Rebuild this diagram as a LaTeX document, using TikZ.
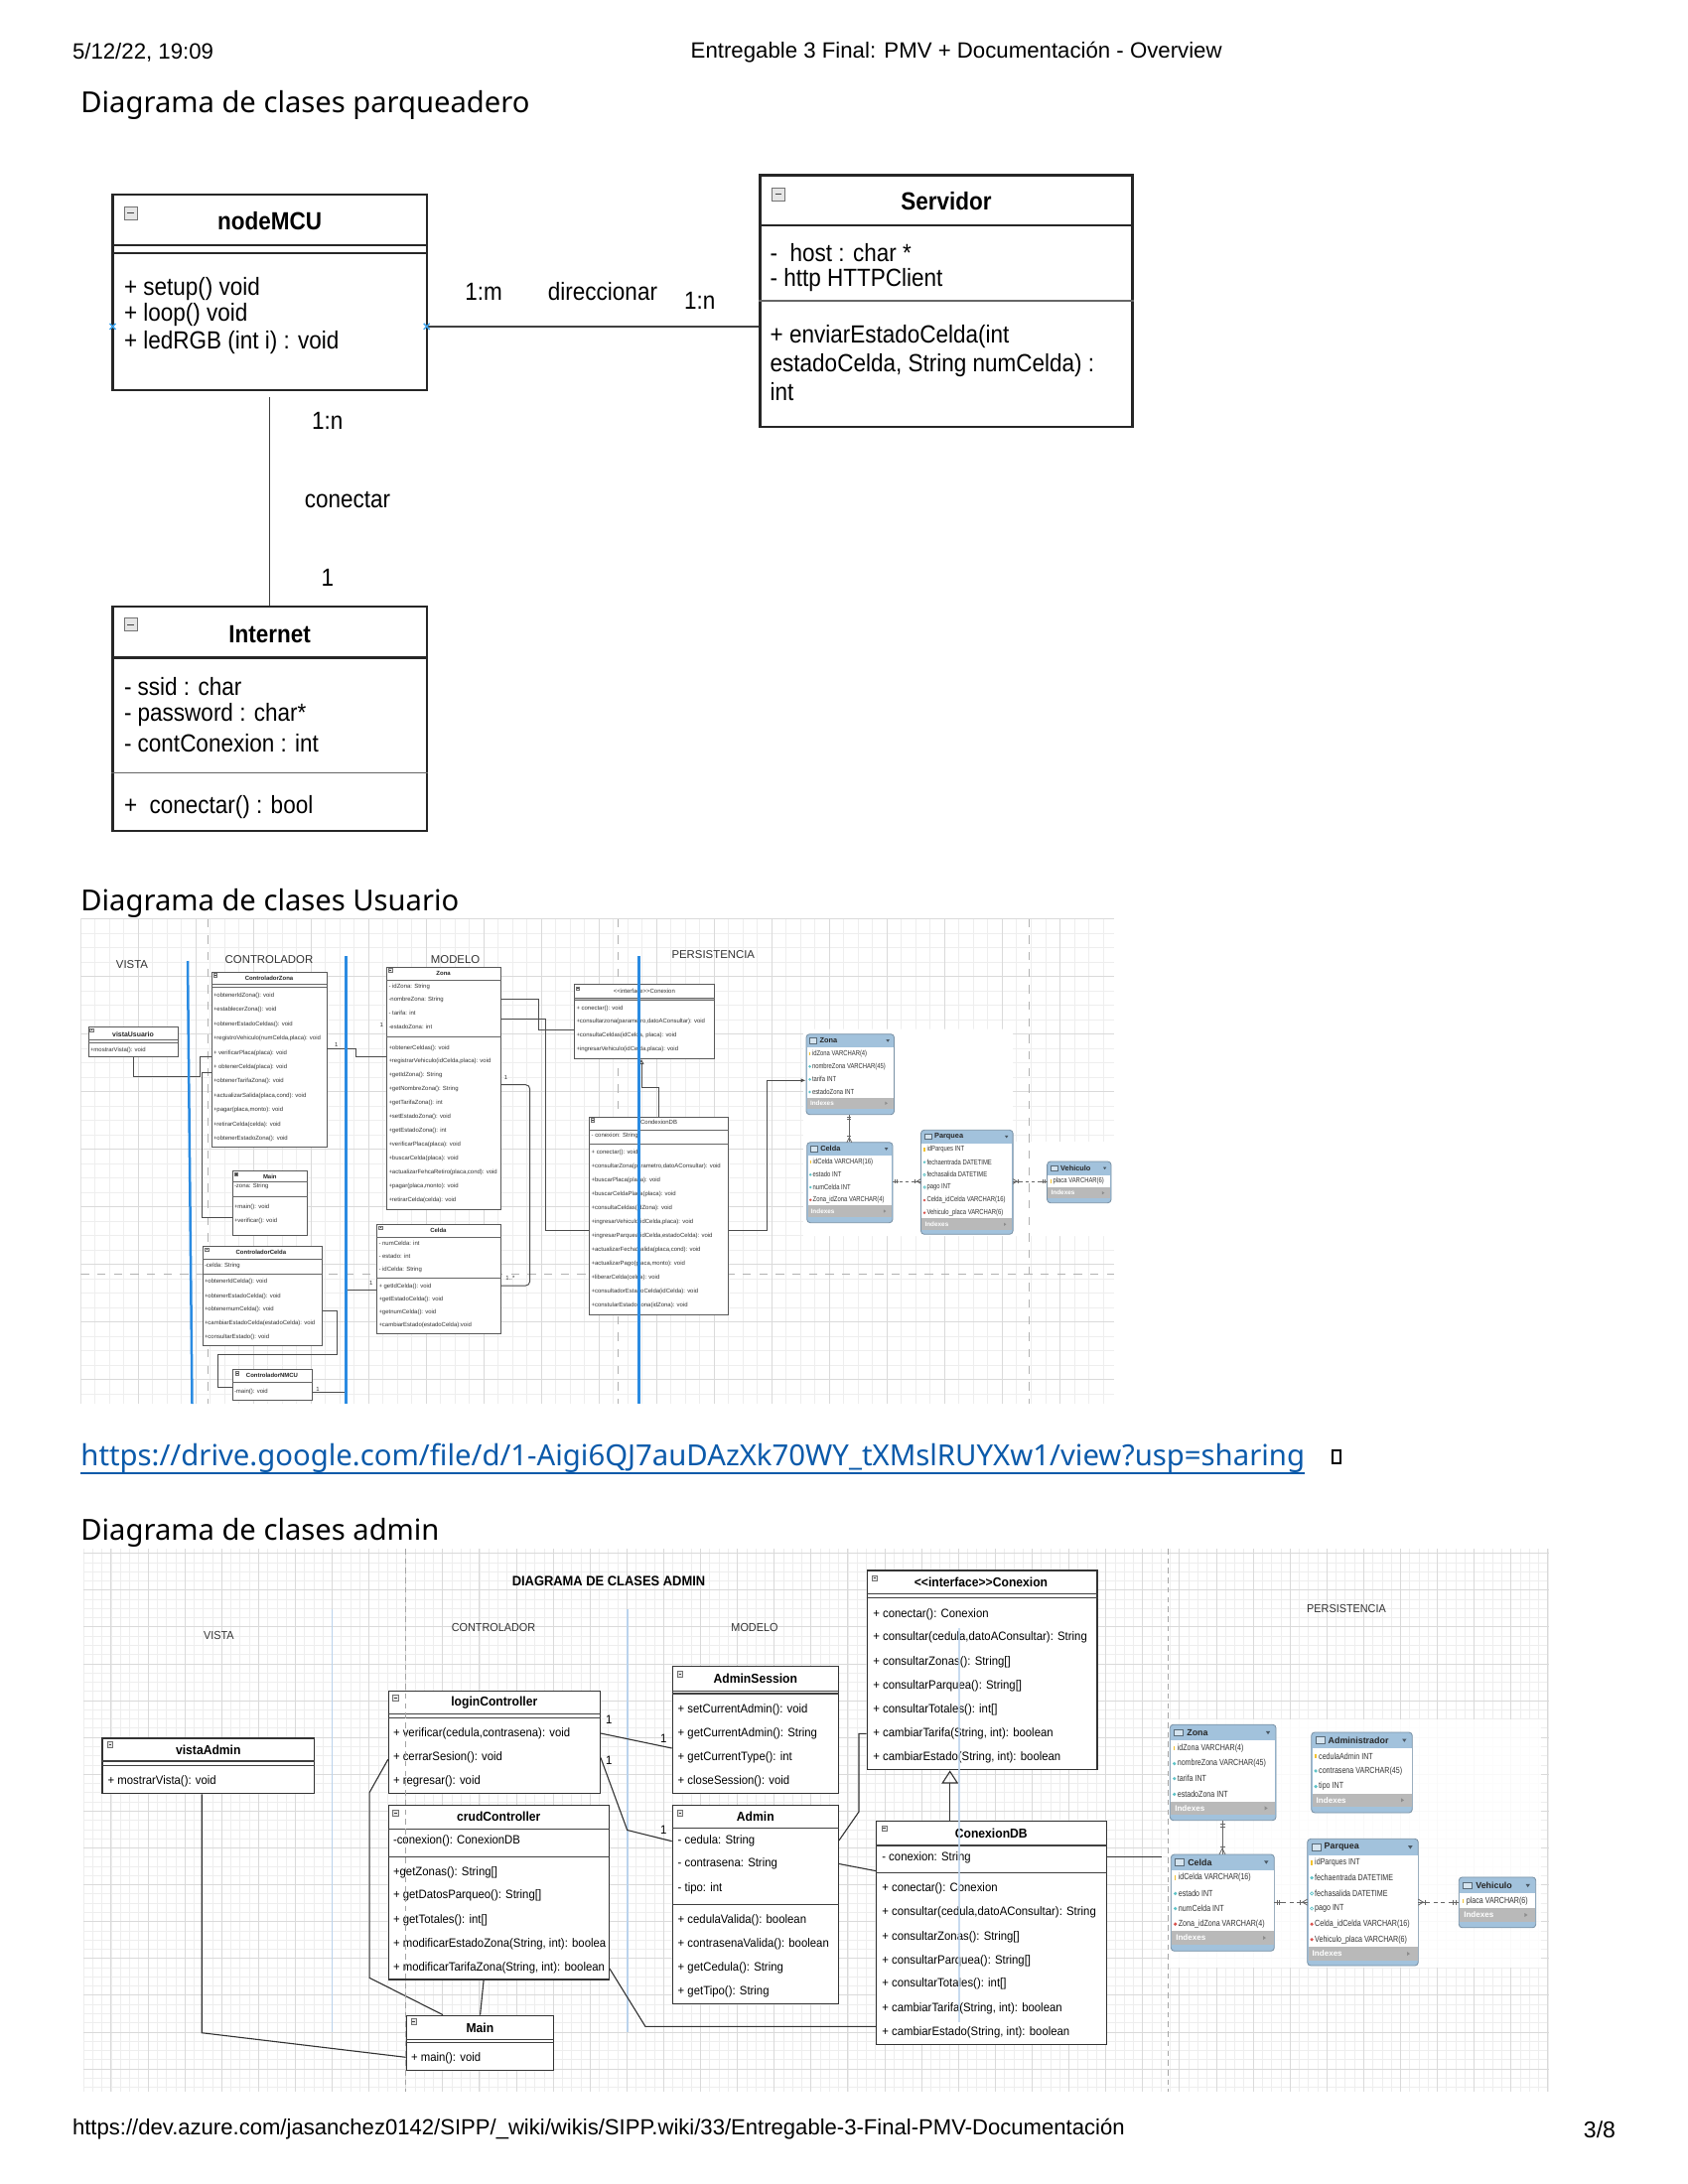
\documentclass[tikz,border=0pt]{standalone}
\usepackage{fontspec}
\setmainfont{Liberation Sans}
\newfontfamily\segoe{Noto Sans}
\newfontfamily\umlA[FakeStretch=0.9]{Liberation Sans}
\newfontfamily\umlB[FakeStretch=0.93]{Liberation Sans}
\newfontfamily\erf[FakeStretch=0.8]{Liberation Sans}
\usetikzlibrary{fit,arrows.meta}

\definecolor{linkblue}{HTML}{0B5AAA}
\definecolor{laneblue}{HTML}{2A8BE2}
\definecolor{lanelight}{HTML}{BBD3EC}
\definecolor{erhead}{HTML}{A2C2DC}
\definecolor{ergrey}{HTML}{B9B9B9}
\definecolor{gridminor}{HTML}{EEEEEE}
\definecolor{gridmajor}{HTML}{DADADA}
\definecolor{xblue}{HTML}{3DA5F0}
\definecolor{keyyel}{HTML}{F2C230}
\definecolor{colcyan}{HTML}{5FC3C8}
\definecolor{fkred}{HTML}{D9534F}

\newcounter{tn}
\newcommand\putT[3][]{\stepcounter{tn}\node[txt,#1] (t\arabic{tn}) at (#2) {#3};}
\newcommand\cls[6][]{\path (#3,#4) coordinate (#2-nw) (#5,#6) coordinate (#2-se);
  \node[#1, fit=(#2-nw)(#2-se)] (#2) {};}
\newcommand\hsep[3][]{\draw[#1] (#2.west |- 0,#3) -- (#2.east |- 0,#3);}
\newcommand\icon[3]{\draw[iconst] (#1,#2) +(-#3/2,-#3/2) rectangle +(#3/2,#3/2);
  \draw[iconmin] (#1,#2) +(-#3/4,0) -- +(#3/4,0);}
% ER helpers
\newcommand\ertab[8]{\path (#2,#3) coordinate (#1-nw) (#4,#5) coordinate (#1-se);
  \node[erbox, fit=(#1-nw)(#1-se)] (#1) {};
  \fill[white] (#2+0.8,#6) rectangle (#4-0.8,#7);
  \fill[ergrey] (#2+0.8,#7) rectangle (#4-0.8,#8);}
\newcommand\eric[4]{\ifcase#4\relax
  \fill[keyyel] (#1,#2) +(-0.7*#3,-2.2*#3) rectangle +(0.7*#3,2.2*#3);
  \or \fill[colcyan] (#1,#2) +(-1.8*#3,0) -- +(0,-1.8*#3) -- +(1.8*#3,0) -- +(0,1.8*#3) -- cycle;
  \or \draw[colcyan,line width=0.25pt] (#1,#2) +(-1.6*#3,0) -- +(0,-1.6*#3) -- +(1.6*#3,0) -- +(0,1.6*#3) -- cycle;
  \or \fill[fkred] (#1,#2) +(-1.8*#3,0) -- +(0,-1.8*#3) -- +(1.8*#3,0) -- +(0,1.8*#3) -- cycle;
  \fi}
\newcommand\errow[5]{\eric{#1+4.4*#3}{#2}{#3}{#4}\putT[erfont,anchor=west]{#1+7.5*#3,#2}{#5}}
\newcommand\erhead[5]{\draw[draw=erhead!55!black, fill=white!55!erhead, line width=0.25pt] (#1+4.4*#4,#3-3.3*#4) rectangle (#1+13.4*#4,#3+3.3*#4);
  \putT[ertitle,anchor=west]{#1+17*#4,#3}{#5}
  \fill[erhead!45!black] (#2-8*#4,#3) +(-2.2*#4,-1.5*#4) -- +(2.2*#4,-1.5*#4) -- +(0,1.8*#4) -- cycle;}
\newcommand\erind[4]{\putT[erind,anchor=west]{#1+5*#4,#3}{Indexes}
  \fill[black!45] (#2-10*#4,#3) +(-1.3*#4,-2*#4) -- +(1.7*#4,0) -- +(-1.3*#4,2*#4) -- cycle;}
\newcommand\mkV[4]{% x ytop ybot s
  \draw[erl] (#1-2.5*#4,#2+4*#4) -- (#1+2.5*#4,#2+4*#4);
  \draw[erl] (#1-2.5*#4,#2+6.5*#4) -- (#1+2.5*#4,#2+6.5*#4);
  \draw[erl] (#1-3*#4,#3) -- (#1,#3-6*#4) -- (#1+3*#4,#3);
  \draw[erl] (#1-2.5*#4,#3-8*#4) -- (#1+2.5*#4,#3-8*#4);}
\newcommand\mkCP[4]{% x1 x2 y s
  \draw[erl] (#1,#3) -- (#1+8*#4,#3) (#2-9*#4,#3) -- (#2,#3);
  \draw[erl] (#1+3*#4,#3-2.5*#4) -- (#1+3*#4,#3+2.5*#4);
  \draw[erl] (#1+5.5*#4,#3-2.5*#4) -- (#1+5.5*#4,#3+2.5*#4);
  \draw[erl] (#2-7.5*#4,#3-2.5*#4) -- (#2-7.5*#4,#3+2.5*#4);
  \draw[erl] (#2,#3-3*#4) -- (#2-5*#4,#3) -- (#2,#3+3*#4);}
\newcommand\mkPV[4]{% x1 x2 y s
  \draw[erl] (#1,#3) -- (#1+8*#4,#3) (#2-8*#4,#3) -- (#2,#3);
  \draw[erl] (#1,#3-3*#4) -- (#1+5*#4,#3) -- (#1,#3+3*#4);
  \draw[erl] (#1+7*#4,#3-2.5*#4) -- (#1+7*#4,#3+2.5*#4);
  \draw[erl] (#2-5.5*#4,#3-2.5*#4) -- (#2-5.5*#4,#3+2.5*#4);
  \draw[erl] (#2-3*#4,#3-2.5*#4) -- (#2-3*#4,#3+2.5*#4);}

\begin{document}
\begin{tikzpicture}[x=0.36pt,y=-0.36pt,
  txt/.style={inner sep=0pt, outer sep=0pt},
  topbox/.style={draw=black!85, line width=0.75pt, fill=white, inner sep=0pt},
  topsep/.style={draw=black!85, line width=0.75pt},
  topsepthin/.style={draw=black!60, line width=0.5pt},
  toptxt/.style={font=\umlA\fontsize{9}{10}\selectfont},
  toptitle/.style={font=\umlA\bfseries\fontsize{9}{10}\selectfont},
  topconn/.style={draw=black!75, line width=0.6pt},
  iconst/.style={draw=black!55, fill=black!10, line width=0.3pt},
  iconmin/.style={draw=black!75, line width=0.45pt},
  ubox/.style={draw=black!65, line width=0.3pt, fill=white, inner sep=0pt},
  usep/.style={draw=black!60, line width=0.3pt},
  utxt/.style={font=\fontsize{2.15}{2.5}\selectfont, text=black!80},
  utitle/.style={font=\bfseries\fontsize{2.15}{2.5}\selectfont, text=black!85},
  uconn/.style={draw=black!70, line width=0.35pt},
  ulbl/.style={font=\fontsize{4.1}{5}\selectfont, text=black!80},
  abox/.style={draw=black!80, line width=0.45pt, fill=white, inner sep=0pt},
  asep/.style={draw=black!75, line width=0.4pt},
  atxt/.style={font=\umlB\fontsize{4.4}{5}\selectfont},
  atitle/.style={font=\umlB\bfseries\fontsize{4.7}{5.5}\selectfont},
  aconn/.style={draw=black!80, line width=0.4pt},
  albl/.style={font=\umlB\fontsize{4.2}{5}\selectfont, text=black!80},
  erbox/.style={draw=erhead!75!black, fill=erhead, rounded corners=1.2pt, line width=0.3pt, inner sep=0pt},
  erl/.style={draw=black!60, line width=0.3pt},
  hdr/.style={font=\fontsize{8}{9}\selectfont},
  head/.style={font=\segoe\fontsize{10.5}{12}\selectfont}
]
\useasboundingbox (0,0) rectangle (1700,2200);
\fill[white] (0,0) rectangle (1700,2200);

% ---------------- page header / titles ----------------
\putT[hdr,anchor=west]{73,53}{5/12/22, 19:09}
\putT[hdr,anchor=west]{695.7,53}{Entregable 3 Final: PMV + Documentación - Overview}
\putT[head,anchor=west]{81.4,106}{Diagrama de clases parqueadero}
\putT[head,anchor=west]{81.4,910}{Diagrama de clases Usuario}
\putT[head,anchor=west,text=linkblue,font=\segoe\fontsize{10.55}{12}\selectfont]{81.4,1469}{https://drive.google.com/file/d/1-Aigi6QJ7auDAzXk70WY\_tXMslRUYXw1/view?usp=sharing}
\draw[linkblue, line width=0.6pt] (t\arabic{tn}.south west) -- (t\arabic{tn}.south east);
\draw[black, line width=0.5pt] (1342,1461) rectangle (1350,1474);
\putT[head,anchor=west]{81.4,1544}{Diagrama de clases admin}
\putT[hdr,anchor=west,font=\fontsize{7.95}{9}\selectfont]{73,2145}{https://dev.azure.com/jasanchez0142/SIPP/\_wiki/wikis/SIPP.wiki/33/Entregable-3-Final-PMV-Documentación}
\putT[hdr,anchor=east,font=\fontsize{8.3}{9}\selectfont]{1627,2145}{3/8}

% ---------------- top UML diagram ----------------
\cls[topbox]{mcu}{113.5}{195.7}{429.7}{393}
\hsep[topsep]{mcu}{247}
\hsep[topsep]{mcu}{254.7}
\icon{131.7}{214.8}{13}
\putT[toptitle]{271.6,222.5}{nodeMCU}
\putT[toptxt,anchor=west]{125,291}{+ setup() void}
\putT[toptxt,anchor=west]{125,317}{+ loop() void}
\putT[toptxt,anchor=west]{125,345}{+ ledRGB (int i) : void}

\cls[topbox]{serv}{765.5}{176.5}{1140.5}{430}
\hsep[topsep]{serv}{227}
\hsep[topsepthin]{serv}{303}
\icon{783.8}{195.7}{13}
\putT[toptitle]{953,203}{Servidor}
\putT[toptxt,anchor=west]{775.7,254.7}{-\ \ host : char *}
\putT[toptxt,anchor=west]{775.7,282}{- http HTTPClient}
\putT[toptxt,anchor=west]{775.7,338.6}{+ enviarEstadoCelda(int}
\putT[toptxt,anchor=west]{775.7,367.7}{estadoCelda, String numCelda) :}
\putT[toptxt,anchor=west]{775.7,394.5}{int}

\cls[topbox]{inet}{113.5}{611}{429.7}{836.6}
\hsep[topsep]{inet}{662.5}
\hsep[topsepthin]{inet}{778.6}
\icon{131.7}{629.3}{13}
\putT[toptitle]{271.6,639}{Internet}
\putT[toptxt,anchor=west]{125,691.5}{- ssid : char}
\putT[toptxt,anchor=west]{125,719.6}{- password : char*}
\putT[toptxt,anchor=west]{125,748.7}{- contConexion : int}
\putT[toptxt,anchor=west]{125,813.4}{+\ \ conectar() : bool}

\draw[topconn] (mcu.east |- 0,328.8) -- (serv.west |- 0,328.8);
\draw[topconn] ([yshift=-2.2pt]mcu.south) -- (inet.north);
\draw[xblue, line width=0.5pt] (113.5,328.8) +(-3,-3) -- +(3,3) +(-3,3) -- +(3,-3);
\draw[xblue, line width=0.5pt] (429.7,328.8) +(-3,-3) -- +(3,3) +(-3,3) -- +(3,-3);
\putT[toptxt]{487,294}{1:m}
\putT[toptxt]{607,294}{direccionar}
\putT[toptxt]{704.7,303}{1:n}
\putT[toptxt]{329.7,424}{1:n}
\putT[toptxt]{350,504}{conectar}
\putT[toptxt]{330,582}{1}

% ---------------- Usuario diagram ----------------
\begin{scope}
\clip (81.4,925.7) rectangle (1122,1414);
\foreach \i in {0,...,72} {\draw[gridminor, line width=0.3pt] (81.4+\i*14.5,925.7) -- (81.4+\i*14.5,1414);}
\foreach \j in {0,...,34} {\draw[gridminor, line width=0.3pt] (81.4,925.7+\j*14.5) -- (1122,925.7+\j*14.5);}
\foreach \i in {0,...,18} {\draw[gridmajor, line width=0.3pt] (81.4+\i*58,925.7) -- (81.4+\i*58,1414);}
\foreach \j in {0,...,8} {\draw[gridmajor, line width=0.3pt] (81.4,925.7+\j*58) -- (1122,925.7+\j*58);}
\fill[white] (809,1036.7) -- (1020,1036.7) -- (1020,1150) -- (1122,1150) -- (1122,1245) -- (809,1245) -- cycle;
\draw[black!30, dashed, line width=0.3pt] (81.4,1283.3) -- (1122,1283.3);
\draw[black!30, dashed, line width=0.3pt] (209.3,925.7) -- (209.3,1414);
\draw[black!30, dashed, line width=0.3pt] (622,925.7) -- (622,1414);
\draw[black!30, dashed, line width=0.3pt] (1036.8,925.7) -- (1036.8,1414);
\end{scope}

\putT[ulbl]{133,972}{VISTA}
\putT[ulbl]{271,967}{CONTROLADOR}
\putT[ulbl]{458.6,967}{MODELO}
\putT[ulbl]{718.3,962}{PERSISTENCIA}

% vistaUsuario
\cls[ubox]{vistaU}{89}{1034.3}{179}{1064.3}
\hsep[usep]{vistaU}{1047.7}\hsep[usep]{vistaU}{1050.7}
\icon{92.5}{1037.8}{3.5}
\putT[utitle,font=\bfseries\fontsize{2.5}{3}\selectfont]{134,1041.7}{vistaUsuario}
\putT[utxt,anchor=west]{91,1057.7}{+mostrarVista(): void}

% ControladorZona
\cls[ubox]{czona}{213}{979.3}{329}{1155}
\hsep[usep]{czona}{991.7}\hsep[usep]{czona}{994}
\icon{216.8}{982.5}{3.5}
\putT[utitle]{271,985.7}{ControladorZona}
\foreach \yy/\tt in {1002.7/{+obtenerIdZona(): void},1017.3/{+establecerZona(): void},1031.7/{+obtenerEstadoCeldas(): void},1046/{+registroVehiculo(numCelda,placa): void},1060.7/{+ verificarPlaca(placa): void},1074.7/{+ obtenerCelda(placa): void},1089.3/{+obtenerTarifaZona(): void},1104/{+actualizarSalida(placa,cond): void},1118.3/{+pagar(placa,monto): void},1132.7/{+retirarCelda(celda): void},1146.7/{+obtenerEstadoZona(): void}}
  {\putT[utxt,anchor=west]{215,\yy}{\tt}}

% Main (usuario)
\cls[ubox]{umain}{234.3}{1179.3}{309.3}{1244}
\hsep[usep]{umain}{1190}\hsep[usep]{umain}{1205}
\icon{238}{1183}{3.2}
\putT[utitle]{271.8,1185.2}{Main}
\putT[utxt,anchor=west]{236,1195}{-zona: String}
\putT[utxt,anchor=west]{236,1216}{+main(): void}
\putT[utxt,anchor=west]{236,1230}{+verificar(): void}

% ControladorCelda
\cls[ubox]{cceld}{204.3}{1255}{324.6}{1355}
\hsep[usep]{cceld}{1268.3}\hsep[usep]{cceld}{1283.3}
\icon{208.6}{1258.7}{3.5}
\putT[utitle]{262.9,1261}{ControladorCelda}
\putT[utxt,anchor=west]{206,1274.7}{-celda: String}
\foreach \yy/\tt in {1291.3/{+obtenerIdCelda(): void},1305.7/{+obtenerEstadoCelda(): void},1319.3/{+obtenernumCelda(): void},1333.3/{+cambiarEstadoCelda(estadoCelda): void},1347.3/{+consultarEstado(): void}}
  {\putT[utxt,anchor=west]{206,\yy}{\tt}}

% ControladorNMCU
\cls[ubox]{cnmcu}{234.3}{1379.3}{314.6}{1410}
\hsep[usep]{cnmcu}{1392.7}
\icon{239}{1383.3}{3.5}
\putT[utitle]{274,1385.7}{ControladorNMCU}
\putT[utxt,anchor=west]{236,1402.3}{-main(): void}

% Zona (modelo)
\cls[ubox]{uzona}{389.3}{974}{504.3}{1218.3}
\hsep[usep]{uzona}{987.3}\hsep[usep]{uzona}{1044.3}
\icon{393.2}{977.3}{3.5}
\putT[utitle]{446.6,980.7}{Zona}
\foreach \yy/\tt in {994/{- idZona: String},1006.7/{-nombreZona: String},1020/{- tarifa: int},1034/{-estadoZona: int},1056/{+obtenerCeldas(): void},1068.7/{+registrarVehiculo(idCelda,placa): void},1082.7/{+getIdZona(): String},1096.7/{+getNombreZona(): String},1110.7/{+getTarifaZona(): int},1124.7/{+setEstadoZona(): void},1138.7/{+getEstadoZona(): int},1152.7/{+verificarPlaca(placa): void},1166.7/{+buscarCelda(placa): void},1180.7/{+actualizarFehcaRetiro(placa,cond): void},1194.7/{+pagar(placa,monto): void},1208.7/{+retirarCelda(celda): void}}
  {\putT[utxt,anchor=west]{391.5,\yy}{\tt}}

% Celda (modelo)
\cls[ubox]{ucelda}{379.3}{1233.3}{504.3}{1343.3}
\hsep[usep]{ucelda}{1246}\hsep[usep]{ucelda}{1287.3}
\icon{383.6}{1236.7}{3.5}
\putT[utitle]{441.4,1239.3}{Celda}
\foreach \yy/\tt in {1252.7/{- numCelda: int},1265.3/{- estado: int},1278.7/{- idCelda: String},1295.7/{+ getIdCelda(): void},1308.7/{+getEstadoCelda(): void},1321.7/{+getnumCelda(): void},1335.3/{+cambiarEstado(estadoCelda):void}}
  {\putT[utxt,anchor=west]{381.5,\yy}{\tt}}

% interface Conexion (usuario)
\cls[ubox]{uint}{578.3}{991.7}{719.4}{1066.7}
\fill[black!22] (578.6,1005) rectangle (719.1,1007.3);
\hsep[usep]{uint}{1005}\hsep[usep]{uint}{1007.3}
\icon{581.8}{995.7}{3.5}
\putT[utxt]{648.8,998.7}{<\kern0pt<interface>\kern0pt>Conexion}
\foreach \yy/\tt in {1015.7/{+ conectar(): void},1029.3/{+consultarzona(parametro,datoAConsultar): void},1043.3/{+consultaCeldas(idCelda, placa): void},1057.3/{+ingresarVehiculo(idCelda,placa): void}}
  {\putT[utxt,anchor=west]{580.5,\yy}{\tt}}

% CondexionDB
\cls[ubox]{udb}{593.4}{1125}{733.8}{1324.3}
\hsep[usep]{udb}{1138.3}\hsep[usep]{udb}{1152.7}
\icon{597.1}{1128.3}{3.5}
\putT[utxt]{663.6,1130.7}{CondexionDB}
\putT[utxt,anchor=west]{595.6,1144.3}{- conexion: String}
\foreach \yy/\tt in {1160.7/{+ conectar(): void},1174.7/{+consultarZona(parametro,datoAConsultar): void},1188.7/{+buscarPlaca(placa): void},1202.7/{+buscarCeldaPlaca(placa): void},1216.7/{+consultaCeldas(idZona): void},1230.7/{+ingresarVehiculo(idCelda,placa): void},1244.7/{+ingresarParquea(idCelda,estadoCelda): void},1258.7/{+actualizarFechaSalida(placa,cond): void},1272.7/{+actualizarPago(placa,monto): void},1286.7/{+liberarCelda(celda): void},1300.7/{+consultadorEstadoCelda(idCelda): void},1314.7/{+constularEstadoZona(idZona): void}}
  {\putT[utxt,anchor=west]{595.6,\yy}{\tt}}

% usuario connectors
\draw[uconn] (vistaU.south) |- (201.4,1084.3) -- (201.4,1064.3) -- (czona.west |- 0,1064.3);
\draw[uconn] (czona.west |- 0,1080) -- (203.2,1080) -- (203.2,1226) -- (umain.west |- 0,1226);
\draw[uconn] (czona.east |- 0,1056.7) -- (358.6,1056.7) -- (358.6,1064) -- (uzona.west |- 0,1064);
\draw[uconn] (uzona.east |- 0,1006.7) -- (542.5,1006.7) -- (542.5,1037.7) -- (uint.west |- 0,1037.7);
\draw[uconn] (uzona.east |- 0,1026.7) -- (549,1026.7) -- (549,1239.3) -- (udb.west |- 0,1239.3);
\draw[uconn, rounded corners=1.5pt] (uzona.east |- 0,1092.7) -- (533.6,1092.7) -- (533.6,1295) -- (ucelda.east |- 0,1295);
\draw[uconn] (cceld.east |- 0,1320) -- (339,1320) -- (339,1364) -- (219.3,1364) -- (219.3,1397.3) -- (cnmcu.west |- 0,1397.3);
\draw[uconn] (cnmcu.east |- 0,1402.3) -- (347.1,1402.3) -- (347.1,1299.3) -- (ucelda.west |- 0,1299.3);
\draw[uconn, -{Triangle[open,length=1.8pt,width=1.8pt]}] (udb.north) -- (663.6,1095) -- (646,1095) -- (uint.south -| 646,0);
\putT[utxt]{338.9,1052.3}{1}
\putT[utxt]{384.3,1032.3}{1}
\putT[utxt]{509.6,1085.7}{1}
\putT[utxt]{513.9,1287.7}{1..*}
\putT[utxt]{320,1399.3}{1}
\putT[utxt]{373.9,1292}{1}

% usuario lanes
\draw[laneblue, line width=0.9pt] (189,968) -- (193.5,1414);
\draw[laneblue, line width=0.9pt] (348.6,963) -- (348.6,1414);
\draw[laneblue, line width=0.9pt] (643.4,963) -- (643.4,1414);

% usuario ER tables
\begin{scope}[erfont/.style={font=\erf\fontsize{2.65}{3}\selectfont, text=black!80},
  ertitle/.style={font=\bfseries\fontsize{2.65}{3}\selectfont, text=black!85},
  erind/.style={font=\bfseries\fontsize{2.3}{3}\selectfont, text=white}]
\ertab{erZU}{812}{1041.7}{900.5}{1122.7}{1055}{1105.5}{1117}
\erhead{812}{900.5}{1048.3}{0.8}{Zona}
\errow{812}{1061.7}{0.8}{0}{idZona VARCHAR(4)}
\errow{812}{1074.3}{0.8}{1}{nombreZona VARCHAR(45)}
\errow{812}{1087.3}{0.8}{1}{tarifa INT}
\errow{812}{1100}{0.8}{1}{estadoZona INT}
\erind{812}{900.5}{1111.3}{0.8}

\ertab{erCU}{812.7}{1150.7}{899}{1231.7}{1164}{1214}{1226}
\erhead{812.7}{899}{1157.3}{0.8}{Celda}
\errow{812.7}{1170.7}{0.8}{0}{idCelda VARCHAR(16)}
\errow{812.7}{1183.3}{0.8}{1}{estado INT}
\errow{812.7}{1196}{0.8}{1}{numCelda INT}
\errow{812.7}{1208.7}{0.8}{3}{Zona\_idZona VARCHAR(4)}
\erind{812.7}{899}{1220}{0.8}

\ertab{erPU}{927.5}{1138.3}{1020.1}{1243.3}{1151.5}{1227}{1239}
\erhead{927.5}{1020.1}{1145}{0.8}{Parquea}
\errow{927.5}{1158}{0.8}{0}{idParques INT}
\errow{927.5}{1170.7}{0.8}{1}{fechaentrada DATETIME}
\errow{927.5}{1183.3}{0.8}{2}{fechasalida DATETIME}
\errow{927.5}{1196}{0.8}{2}{pago INT}
\errow{927.5}{1209}{0.8}{3}{Celda\_idCelda VARCHAR(16)}
\errow{927.5}{1221.7}{0.8}{3}{Vehiculo\_placa VARCHAR(6)}
\erind{927.5}{1020.1}{1233.3}{0.8}

\ertab{erVU}{1054.6}{1170}{1119}{1211.7}{1183.5}{1196}{1207}
\erhead{1054.6}{1119}{1176.7}{0.8}{Vehiculo}
\errow{1054.6}{1190}{0.8}{0}{placa VARCHAR(6)}
\erind{1054.6}{1119}{1201.7}{0.8}
\end{scope}
\draw[erl] (erZU.south -| 855.3,0) -- (erCU.north -| 855.3,0);
\mkV{855.3}{1122.7}{1150.7}{0.8}
\draw[erl, dashed, dash pattern=on 1.2pt off 1pt] (erCU.east |- 0,1190) -- (erPU.west |- 0,1190);
\mkCP{899}{927.5}{1190}{0.8}
\draw[erl, dashed, dash pattern=on 1.2pt off 1pt] (erPU.east |- 0,1190) -- (erVU.west |- 0,1190);
\mkPV{1020.1}{1054.6}{1190}{0.8}
\draw[uconn, -{Latex[length=1.8pt,width=1.5pt]}] (udb.east |- 0,1239.3) -- (772,1239.3) -- (772,1088.3) -- (erZU.west |- 0,1088.3);

% ---------------- Admin diagram ----------------
\begin{scope}
\clip (84,1560) rectangle (1560,2107);
\foreach \i in {0,...,159} {\draw[gridminor, line width=0.25pt] (84.1+\i*9.275,1560) -- (84.1+\i*9.275,2107);}
\foreach \j in {0,...,58} {\draw[gridminor, line width=0.25pt] (84,1564.6+\j*9.275) -- (1560,1564.6+\j*9.275);}
\foreach \i in {0,...,39} {\draw[gridmajor, line width=0.3pt] (111.9+\i*37.1,1560) -- (111.9+\i*37.1,2107);}
\foreach \j in {0,...,14} {\draw[gridmajor, line width=0.3pt] (84,1564.6+\j*37.1) -- (1560,1564.6+\j*37.1);}
\fill[white, opacity=0.85] (1176.7,1732) rectangle (1552,1982);
\end{scope}

\putT[atitle,font=\umlB\bfseries\fontsize{5}{6}\selectfont]{613,1592.3}{DIAGRAMA DE CLASES ADMIN}
\putT[albl]{220.4,1647.7}{VISTA}
\putT[albl]{497,1639.6}{CONTROLADOR}
\putT[albl]{760,1639.6}{MODELO}
\putT[albl]{1356,1620.4}{PERSISTENCIA}

\draw[lanelight, line width=0.6pt] (334.6,1621.4) -- (334.6,2047);
\draw[lanelight, line width=0.6pt] (631.8,1621.4) -- (631.8,2047);

% vistaAdmin
\cls[abox]{avista}{102.9}{1751}{316.8}{1806.7}
\hsep[asep]{avista}{1774}\hsep[asep]{avista}{1778.2}
\icon{111}{1757.5}{5.5}
\putT[atitle]{209.8,1762.8}{vistaAdmin}
\putT[atxt,anchor=west]{108.6,1794.4}{+ mostrarVista(): void}

% loginController
\cls[abox]{alogin}{391.4}{1703.2}{604.3}{1806.7}
\hsep[asep]{alogin}{1726.7}\hsep[asep]{alogin}{1730.2}
\icon{398.6}{1710.2}{5.5}
\putT[atitle]{497.8,1715}{loginController}
\putT[atxt,anchor=west]{396,1746}{+ verificar(cedula,contrasena): void}
\putT[atxt,anchor=west]{396,1770.5}{+ cerrarSesion(): void}
\putT[atxt,anchor=west]{396,1794.4}{+ regresar(): void}

% crudController
\cls[abox]{acrud}{391.4}{1818.6}{613.2}{1994}
\hsep[asep]{acrud}{1842.5}\hsep[asep]{acrud}{1870.5}
\icon{398.6}{1826.5}{5.5}
\putT[atitle]{502.3,1830.2}{crudController}
\putT[atxt,anchor=west]{396,1854}{-conexion(): ConexionDB}
\putT[atxt,anchor=west]{396,1886.3}{+getZonas(): String[]}
\putT[atxt,anchor=west]{396,1909.8}{+ getDatosParqueo(): String[]}
\putT[atxt,anchor=west]{396,1934.4}{+ getTotales(): int[]}
\putT[atxt,anchor=west]{396,1958.2}{+ modificarEstadoZona(String, int): boolea}
\putT[atxt,anchor=west]{396,1982.8}{+ modificarTarifaZona(String, int): boolean}

% Main (admin)
\cls[abox]{amain}{409.3}{2030.2}{557.5}{2085.3}
\hsep[asep]{amain}{2054.7}\hsep[asep]{amain}{2057.5}
\icon{416.8}{2036.5}{5.5}
\putT[atitle]{483.4,2042.5}{Main}
\putT[atxt,anchor=west]{414,2073.3}{+ main(): void}

% AdminSession
\cls[abox]{asess}{677.3}{1678.6}{844.3}{1806.7}
\hsep[asep]{asess}{1703.2}\hsep[asep]{asess}{1706}
\icon{685}{1686.3}{5.5}
\putT[atitle]{760.8,1690.9}{AdminSession}
\putT[atxt,anchor=west]{682.7,1722.5}{+ setCurrentAdmin(): void}
\putT[atxt,anchor=west]{682.7,1746.3}{+ getCurrentAdmin(): String}
\putT[atxt,anchor=west]{682.7,1770.5}{+ getCurrentType(): int}
\putT[atxt,anchor=west]{682.7,1794.4}{+ closeSession(): void}

% Admin
\cls[abox]{aadmin}{677.3}{1818.6}{844.3}{2018.6}
\hsep[asep]{aadmin}{1841.8}\hsep[asep]{aadmin}{1918.6}
\icon{685}{1826.3}{5.5}
\putT[atitle]{760.8,1829.8}{Admin}
\putT[atxt,anchor=west]{682.7,1854}{- cedula: String}
\putT[atxt,anchor=west]{682.7,1877.5}{- contrasena: String}
\putT[atxt,anchor=west]{682.7,1902.1}{- tipo: int}
\putT[atxt,anchor=west]{682.7,1934.4}{+ cedulaValida(): boolean}
\putT[atxt,anchor=west]{682.7,1958.6}{+ contrasenaValida(): boolean}
\putT[atxt,anchor=west]{682.7,1982.8}{+ getCedula(): String}
\putT[atxt,anchor=west]{682.7,2006.7}{+ getTipo(): String}

% interface Conexion (admin)
\cls[abox]{aconx}{873.3}{1582.1}{1105}{1782.8}
\hsep[asep]{aconx}{1605.6}\hsep[asep]{aconx}{1609.1}
\icon{881}{1589.8}{5.5}
\putT[atitle]{988,1594}{<\kern0pt<interface>\kern0pt>Conexion}
\foreach \yy/\tt in {1626/{+ conectar(): Conexion},1649.5/{+ consultar(cedula,datoAConsultar): String},1674/{+ consultarZonas(): String[]},1698.6/{+ consultarParquea(): String[]},1722.5/{+ consultarTotales(): int[]},1746.3/{+ cambiarTarifa(String, int): boolean},1770.5/{+ cambiarEstado(String, int): boolean}}
  {\putT[atxt,anchor=west]{879.3,\yy}{\tt}}

% ConexionDB
\cls[abox]{adb}{882.7}{1834.7}{1114.3}{2059.3}
\hsep[asep]{adb}{1859}\hsep[asep]{adb}{1886.3}
\icon{890.7}{1841.8}{5.5}
\putT[atitle]{998.3,1847}{ConexionDB}
\putT[atxt,anchor=west]{888.3,1871.6}{- conexion: String}
\foreach \yy/\tt in {1902.1/{+ conectar(): Conexion},1926.7/{+ consultar(cedula,datoAConsultar): String},1951.2/{+ consultarZonas(): String[]},1975.8/{+ consultarParquea(): String[]},1998.6/{+ consultarTotales(): int[]},2023.2/{+ cambiarTarifa(String, int): boolean},2047.7/{+ cambiarEstado(String, int): boolean}}
  {\putT[atxt,anchor=west]{888.3,\yy}{\tt}}

% admin connectors
\draw[aconn, -{Triangle[open,length=4.7pt,width=6pt]}] (adb.north -| 956.7,0) -- (aconx.south -| 956.7,0);
\draw[aconn] (alogin.east |- 0,1746) -- (asess.west |- 0,1761);
\draw[aconn] (alogin.east |- 0,1770.5) -- (631.7,1843.5) -- (aadmin.west |- 0,1854.7);
\draw[aconn] (acrud.east |- 0,1982.8) -- (650,2041.4) -- (adb.west |- 0,2041.4);
\draw[aconn] (aadmin.east |- 0,1854) -- (865,1825) -- (865,1746.3) -- (aconx.west |- 0,1746.3);
\draw[aconn] (aadmin.east |- 0,1877.5) -- (adb.west |- 0,1884.6);
\coordinate (dbEnd) at (1170,1870.5);
\draw[aconn] (adb.east |- 0,1870.5) -- (dbEnd);
\draw[aconn] (alogin.west |- 0,1772.3) -- (372.1,1805.6) -- (372.1,1992.3) -- (amain.north -| 446,0);
\draw[aconn] (acrud.south -| 487.1,0) -- (amain.north -| 483.6,0);
\draw[aconn] (avista.south -| 203.2,0) -- (203.2,2047.7) -- (amain.west |- 0,2072.3);
\putT[atxt]{613.2,1732.6}{1}
\putT[atxt]{668.3,1751.2}{1}
\putT[atxt]{613.2,1773.3}{1}
\putT[atxt]{668.3,1843.5}{1}

% lines drawn over boxes
\draw[lanelight, line width=0.6pt, opacity=0.8] (965.7,1640) -- (965.7,2037);
\draw[black!35, dashed, dash pattern=on 2pt off 1.5pt, line width=0.3pt] (408.6,1560) -- (408.6,2107);
\draw[black!35, dashed, dash pattern=on 2pt off 1.5pt, line width=0.3pt] (1176.7,1560) -- (1176.7,2107);

% admin ER tables
\begin{scope}[erfont/.style={font=\erf\fontsize{3.2}{3.7}\selectfont, text=black!80},
  ertitle/.style={font=\bfseries\fontsize{3.2}{3.7}\selectfont, text=black!85},
  erind/.style={font=\bfseries\fontsize{2.9}{3.5}\selectfont, text=white}]
\ertab{erZA}{1178.3}{1737.2}{1285}{1833.7}{1753}{1814.5}{1828}
\erhead{1178.3}{1285}{1745.3}{1}{Zona}
\errow{1178.3}{1760.7}{1}{0}{idZona VARCHAR(4)}
\errow{1178.3}{1776.5}{1}{1}{nombreZona VARCHAR(45)}
\errow{1178.3}{1791.6}{1}{1}{tarifa INT}
\errow{1178.3}{1807.4}{1}{1}{estadoZona INT}
\erind{1178.3}{1285}{1821.4}{1}

\ertab{erAA}{1320.7}{1745}{1422.3}{1826}{1761}{1806.5}{1820}
\erhead{1320.7}{1422.3}{1753}{1}{Administrador}
\errow{1320.7}{1768.8}{1}{0}{cedulaAdmin INT}
\errow{1320.7}{1783.9}{1}{1}{contrasena VARCHAR(45)}
\errow{1320.7}{1799.6}{1}{1}{tipo INT}
\erind{1320.7}{1422.3}{1813.3}{1}

\ertab{erCA}{1179.3}{1868}{1283.3}{1965.3}{1883.5}{1945}{1959}
\erhead{1179.3}{1283.3}{1875.8}{1}{Celda}
\errow{1179.3}{1891.6}{1}{0}{idCelda VARCHAR(16)}
\errow{1179.3}{1907.4}{1}{1}{estado INT}
\errow{1179.3}{1922.5}{1}{1}{numCelda INT}
\errow{1179.3}{1938.2}{1}{3}{Zona\_idZona VARCHAR(4)}
\erind{1179.3}{1283.3}{1952}{1}

\ertab{erPA}{1316.7}{1852.3}{1428.3}{1980}{1868.5}{1961}{1975}
\erhead{1316.7}{1428.3}{1860.7}{1}{Parquea}
\errow{1316.7}{1876.5}{1}{0}{idParques INT}
\errow{1316.7}{1891.6}{1}{1}{fechaentrada DATETIME}
\errow{1316.7}{1907.4}{1}{2}{fechasalida DATETIME}
\errow{1316.7}{1922.5}{1}{2}{pago INT}
\errow{1316.7}{1938.2}{1}{3}{Celda\_idCelda VARCHAR(16)}
\errow{1316.7}{1953.7}{1}{3}{Vehiculo\_placa VARCHAR(6)}
\erind{1316.7}{1428.3}{1968}{1}

\ertab{erVA}{1469.3}{1890.9}{1546.7}{1941.8}{1907}{1922}{1936}
\erhead{1469.3}{1546.7}{1899.3}{1}{Vehiculo}
\errow{1469.3}{1915.1}{1}{0}{placa VARCHAR(6)}
\erind{1469.3}{1546.7}{1929}{1}
\end{scope}
\draw[erl] (erZA.south -| 1231,0) -- (erCA.north -| 1231,0);
\mkV{1231}{1833.7}{1868}{1}
\draw[erl, dashed, dash pattern=on 1.5pt off 1.2pt] (erCA.east |- 0,1916.1) -- (erPA.west |- 0,1916.1);
\mkCP{1283.3}{1316.7}{1916.1}{1}
\draw[erl, dashed, dash pattern=on 1.5pt off 1.2pt] (erPA.east |- 0,1916.1) -- (erVA.west |- 0,1916.1);
\mkPV{1428.3}{1469.3}{1916.1}{1}
\end{tikzpicture}
\end{document}
